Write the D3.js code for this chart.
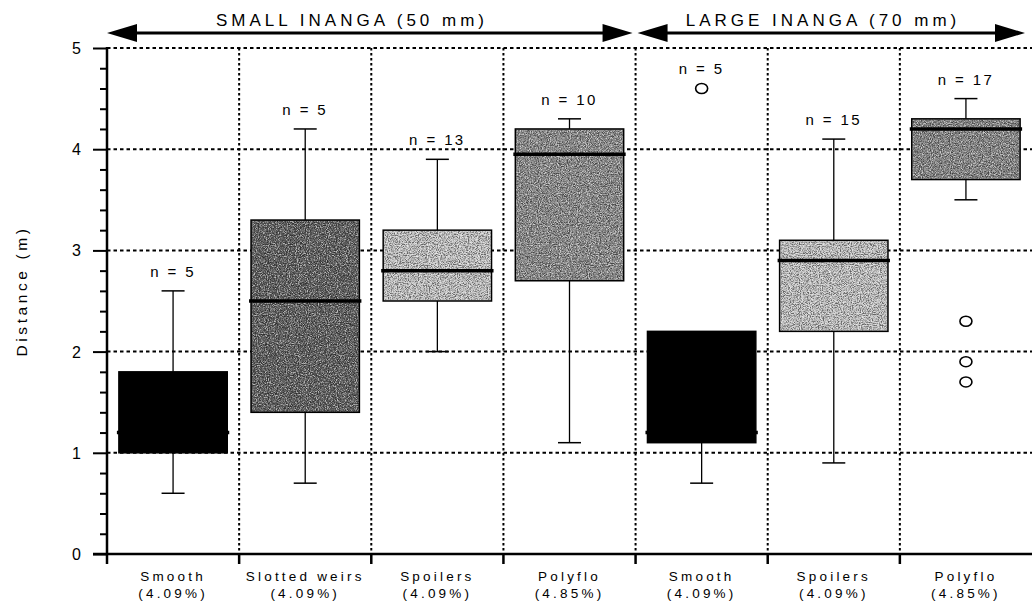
<!DOCTYPE html>
<html>
<head>
<meta charset="utf-8">
<script src="https://cdn.jsdelivr.net/npm/d3@7"></script>
<style>
  body { margin: 0; background: #fff; }
  text { font-family: "Liberation Sans", Arial, sans-serif; fill: #000; }
</style>
</head>
<body>
<script>
// box plot data (metres)
var categories = ["Smooth", "Slotted weirs", "Spoilers", "Polyflo", "Smooth", "Spoilers", "Polyflo"];
var slopes = ["(4.09%)", "(4.09%)", "(4.09%)", "(4.85%)", "(4.09%)", "(4.09%)", "(4.85%)"];
var counts = [5, 5, 13, 10, 5, 15, 17];
var whiskerLow = [0.6, 0.7, 2.0, 1.1, 0.7, 0.9, 3.5];
var q1 = [1.0, 1.4, 2.5, 2.7, 1.1, 2.2, 3.7];
var median = [1.2, 2.5, 2.8, 3.95, 1.2, 2.9, 4.2];
var q3 = [1.8, 3.3, 3.2, 4.2, 2.2, 3.1, 4.3];
var whiskerHigh = [2.6, 4.2, 3.9, 4.3, null, 4.1, 4.5];
var outliers = [[], [], [], [], [4.6], [], [2.3, 1.9, 1.7]];
var fills = ["#000", "#585858", "#c6c6c6", "#8a8a8a", "#000", "#c6c6c6", "#858585"];
var groups = ["SMALL INANGA (50 mm)", "LARGE INANGA (70 mm)"];
var groupStart = [0, 4], groupEnd = [3, 6];
var yTicks = [0, 1, 2, 3, 4, 5];

var W = 1032, H = 602;
var svg = d3.select("body").append("svg")
    .attr("width", W)
    .attr("height", H);

// grain texture for the grey boxes
var defs = svg.append("defs");
function grainFilter(id, seed, rgb) {
  var f = defs.append("filter").attr("id", id)
      .attr("x", 0).attr("y", 0).attr("width", "100%").attr("height", "100%");
  f.append("feTurbulence").attr("type", "fractalNoise")
      .attr("baseFrequency", 0.9).attr("numOctaves", 2).attr("seed", seed).attr("result", "n");
  f.append("feColorMatrix").attr("in", "n").attr("type", "matrix")
      .attr("values", "0 0 0 0 " + rgb + "  0 0 0 0 " + rgb + "  0 0 0 0 " + rgb + "  3.4 0 0 0 -1.45")
      .attr("result", "c");
  f.append("feComposite").attr("in", "c").attr("in2", "SourceGraphic").attr("operator", "in");
}
grainFilter("grain", 3, 1);
grainFilter("grainDark", 11, 0);

var x = d3.scaleBand()
    .domain(d3.range(categories.length))
    .range([107, 1032])
    .paddingInner(0).paddingOuter(0);

var y = d3.scaleLinear()
    .domain([0, 5])
    .range([554, 48]);

var boxW = x.bandwidth() * 0.82;
var capW = 23;

// dotted grid
svg.append("g").selectAll("line")
    .data(yTicks.filter(function(d) { return d > 0; }))
    .enter().append("line")
    .attr("x1", x.range()[0]).attr("x2", W)
    .attr("y1", function(d) { return y(d); })
    .attr("y2", function(d) { return y(d); })
    .attr("stroke", "#000")
    .attr("stroke-width", 2)
    .attr("stroke-dasharray", "3.5,3");

svg.append("g").selectAll("line")
    .data(d3.range(1, categories.length))
    .enter().append("line")
    .attr("x1", function(d) { return x(d); })
    .attr("x2", function(d) { return x(d); })
    .attr("y1", y(5)).attr("y2", y(0))
    .attr("stroke", "#000")
    .attr("stroke-width", 2)
    .attr("stroke-dasharray", "2.5,2.5");

// y axis with minor ticks
var yAxis = svg.append("g")
    .attr("transform", "translate(" + x.range()[0] + ",0)")
    .call(d3.axisLeft(y)
        .tickValues(d3.range(0, 5.01, 0.2))
        .tickSize(7)
        .tickFormat(""));
yAxis.select(".domain").remove();
yAxis.selectAll(".tick line").attr("stroke", "#000").attr("stroke-width", 2)
    .attr("x2", function(d) { return Math.abs(d - Math.round(d)) < 1e-6 ? -14 : -7; });

svg.append("line")
    .attr("x1", x.range()[0]).attr("x2", x.range()[0])
    .attr("y1", y(5) - 1).attr("y2", y(0) + 1)
    .attr("stroke", "#000").attr("stroke-width", 2.5);

svg.append("g").selectAll("text")
    .data(yTicks)
    .enter().append("text")
    .attr("x", 81)
    .attr("y", function(d) { return y(d) + 6; })
    .attr("text-anchor", "end")
    .style("font-size", "16px")
    .text(function(d) { return d; });

svg.append("text")
    .attr("transform", "translate(27," + 291 + ") rotate(-90)")
    .attr("text-anchor", "middle")
    .style("font-size", "15.5px")
    .style("letter-spacing", "3.6px")
    .text("Distance (m)");

// x axis
svg.append("line")
    .attr("x1", 93).attr("x2", W)
    .attr("y1", y(0)).attr("y2", y(0))
    .attr("stroke", "#000").attr("stroke-width", 2.5);

svg.append("g").selectAll("line")
    .data(d3.range(0, categories.length))
    .enter().append("line")
    .attr("x1", function(d) { return x(d); })
    .attr("x2", function(d) { return x(d); })
    .attr("y1", y(0)).attr("y2", y(0) + 10)
    .attr("stroke", "#000").attr("stroke-width", 2.5);

var labels = svg.append("g").selectAll("g")
    .data(categories)
    .enter().append("g")
    .attr("transform", function(d, i) { return "translate(" + (x(i) + x.bandwidth() / 2) + ",0)"; });
labels.append("text")
    .attr("y", 581)
    .attr("text-anchor", "middle")
    .style("font-size", "13.5px")
    .style("letter-spacing", "3.2px")
    .text(function(d) { return d; });
labels.append("text")
    .attr("y", 598)
    .attr("text-anchor", "middle")
    .style("font-size", "13.5px")
    .style("letter-spacing", "3.2px")
    .text(function(d, i) { return slopes[i]; });

// boxes
var boxes = svg.append("g").selectAll("g")
    .data(categories)
    .enter().append("g")
    .attr("transform", function(d, i) { return "translate(" + (x(i) + x.bandwidth() / 2) + ",0)"; });

boxes.each(function(d, i) {
  var g = d3.select(this);
  var lo = whiskerLow[i], hi = whiskerHigh[i];
  g.append("line")
      .attr("y1", y(lo)).attr("y2", y(q1[i]))
      .attr("stroke", "#000").attr("stroke-width", 1.3);
  g.append("line")
      .attr("x1", -capW / 2).attr("x2", capW / 2)
      .attr("y1", y(lo)).attr("y2", y(lo))
      .attr("stroke", "#000").attr("stroke-width", 1.5);
  if (hi != null) {
    g.append("line")
        .attr("y1", y(hi)).attr("y2", y(q3[i]))
        .attr("stroke", "#000").attr("stroke-width", 1.3);
    g.append("line")
        .attr("x1", -capW / 2).attr("x2", capW / 2)
        .attr("y1", y(hi)).attr("y2", y(hi))
        .attr("stroke", "#000").attr("stroke-width", 1.5);
  }
  var rect = {x: -boxW / 2, y: y(q3[i]), w: boxW, h: y(q1[i]) - y(q3[i])};
  g.append("rect")
      .attr("x", rect.x).attr("y", rect.y)
      .attr("width", rect.w).attr("height", rect.h)
      .attr("fill", fills[i])
      .attr("stroke", "#000").attr("stroke-width", 1.5);
  if (fills[i] !== "#000") {
    g.append("rect")
        .attr("x", rect.x + 1).attr("y", rect.y + 1)
        .attr("width", rect.w - 2).attr("height", rect.h - 2)
        .attr("fill", "#fff").attr("opacity", 0.6)
        .attr("filter", "url(#grain)");
    g.append("rect")
        .attr("x", rect.x + 1).attr("y", rect.y + 1)
        .attr("width", rect.w - 2).attr("height", rect.h - 2)
        .attr("fill", "#000").attr("opacity", 0.5)
        .attr("filter", "url(#grainDark)");
  }
  g.append("line")
      .attr("x1", -boxW / 2 - 2).attr("x2", boxW / 2 + 2)
      .attr("y1", y(median[i])).attr("y2", y(median[i]))
      .attr("stroke", "#000").attr("stroke-width", 3.5);

  g.selectAll("ellipse")
      .data(outliers[i])
      .enter().append("ellipse")
      .attr("cy", function(v) { return y(v); })
      .attr("rx", 6).attr("ry", 5)
      .attr("fill", "#fff")
      .attr("stroke", "#000").attr("stroke-width", 1.6);

  var top = d3.max([hi == null ? q3[i] : hi].concat(outliers[i]));
  g.append("text")
      .attr("y", y(top) - 14)
      .attr("text-anchor", "middle")
      .style("font-size", "15px")
      .style("letter-spacing", "2.4px")
      .text("n  =  " + counts[i]);
});

// group arrows
function arrowHead(g, tip, dir) {
  var yA = 33, len = 30, half = 9;
  g.append("path")
      .attr("d", "M" + tip + "," + yA + "L" + (tip + dir * len) + "," + (yA - half) +
            "L" + (tip + dir * len) + "," + (yA + half) + "Z")
      .attr("fill", "#000");
}
var arrows = svg.append("g");
groups.forEach(function(label, k) {
  var x0 = x(groupStart[k]) + (k === 0 ? 0 : 2);
  var x1 = groupEnd[k] === categories.length - 1 ? 1025 : x(groupEnd[k]) + x.bandwidth() - 3;
  arrows.append("line")
      .attr("x1", x0 + 10).attr("x2", x1 - 10)
      .attr("y1", 33).attr("y2", 33)
      .attr("stroke", "#000").attr("stroke-width", 3);
  arrowHead(arrows, x0, 1);
  arrowHead(arrows, x1, -1);
  arrows.append("text")
      .attr("x", k === 0 ? 352 : 823)
      .attr("y", 26)
      .attr("text-anchor", "middle")
      .style("font-size", "17px")
      .style("letter-spacing", "4px")
      .text(label);
});
</script>
</body>
</html>
